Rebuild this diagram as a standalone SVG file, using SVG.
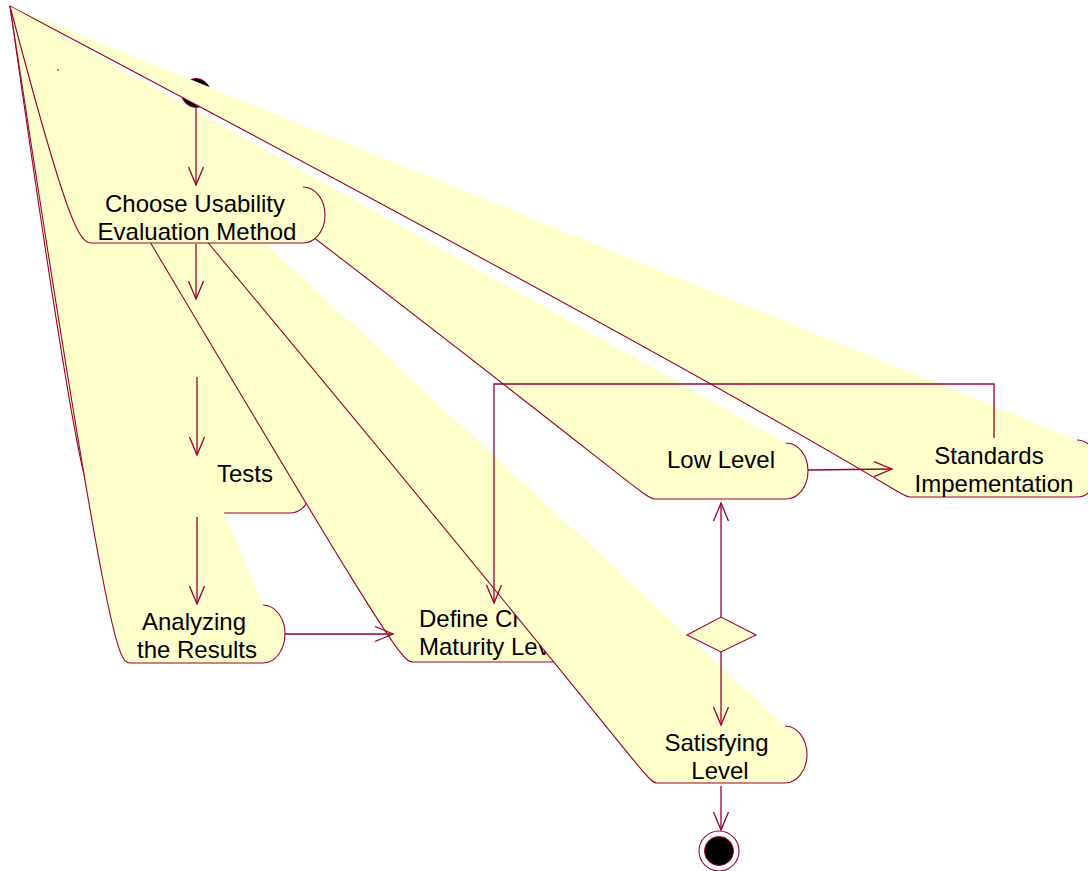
<svg xmlns="http://www.w3.org/2000/svg" width="1088" height="871" viewBox="0 0 1088 871">
  <style>
    .body { fill: #FFFFCC; stroke: none; }
    .edge { fill: none; stroke: #990033; stroke-width: 1.1; }
    .conn { fill: none; stroke: #990033; stroke-width: 1.3; }
    .lbl { font-family: "Liberation Sans", Arial, sans-serif; font-size: 24px; fill: #000000; }
    .mid { text-anchor: middle; }
  </style>
  <defs>
    <marker id="open" viewBox="-20 -10 22 20" refX="0" refY="0" markerWidth="22" markerHeight="20" markerUnits="userSpaceOnUse" orient="auto">
      <path d="M -18 -7.5 L 0 0 L -18 7.5" fill="none" stroke="#990033" stroke-width="1.3"/>
    </marker>
  </defs>
  <rect width="1088" height="871" fill="#FFFFFF"/>

  <!-- initial state -->
  <g id="start">
    <circle cx="196" cy="93" r="14.5" fill="#000000" stroke="#990033" stroke-width="1"/>
  </g>

  <!-- activity states: each outline starts from the shared corner point (10,6) -->
  <g id="standards">
    <path class="body" d="M10,6 C880,466 897.8,497 910,497 L1077,497 C1089.2,497 1099,484.2 1099,468.5 C1099,452.8 1089.2,440 1077,440 Z"/>
    <path class="edge" d="M10,6 C880,466 897.8,497 910,497 L1077,497 C1089.2,497 1099,484.2 1099,468.5 C1099,452.8 1089.2,440 1077,440"/>
    <text class="lbl mid" x="989" y="464">Standards</text>
    <text class="lbl mid" x="994" y="492">Impementation</text>
  </g>

  <g id="low-level">
    <path class="body" d="M10,6 C633,478 642.8,499 655,499 L786,499 C798.2,499 808,486.5 808,471 C808,455.5 798.2,443 786,443 Z"/>
    <path class="edge" d="M10,6 C633,478 642.8,499 655,499 L786,499 C798.2,499 808,486.5 808,471 C808,455.5 798.2,443 786,443"/>
    <text class="lbl mid" x="721" y="468">Low Level</text>
  </g>

  <g id="tests">
    <path class="body" d="M10,6 C80,500.5 89.8,513 102,513 L290,513 C302.2,513 312,500.5 312,485 C312,469.5 302.2,457 290,457 Z"/>
    <path class="edge" d="M10,6 C80,500.5 89.8,513 102,513 L290,513 C302.2,513 312,500.5 312,485 C312,469.5 302.2,457 290,457"/>
    <text class="lbl" x="217" y="482">Tests</text>
  </g>

  <g id="analyzing">
    <path class="body" d="M10,6 C108,650 117.8,663 130,663 L263,663 C275.2,663 285,650 285,634 C285,618 275.2,605 263,605 Z"/>
    <path class="edge" d="M10,6 C108,650 117.8,663 130,663 L263,663 C275.2,663 285,650 285,634 C285,618 275.2,605 263,605"/>
    <text class="lbl mid" x="194" y="630">Analyzing</text>
    <text class="lbl mid" x="197" y="658">the Results</text>
  </g>

  <g id="define">
    <path class="body" d="M10,6 C391,649 400.8,662 413,662 L578,662 C590.2,662 600,649 600,633 C600,617 590.2,604 578,604 Z"/>
    <path class="edge" d="M10,6 C391,649 400.8,662 413,662 L578,662 C590.2,662 600,649 600,633 C600,617 590.2,604 578,604"/>
    <text class="lbl" x="419" y="627">Define Cr</text>
    <text class="lbl" x="419" y="655">Maturity Lev</text>
  </g>

  <g id="satisfying">
    <path class="body" d="M10,6 C638,754 644.8,783 657,783 L785,783 C797.2,783 807,770.2 807,754.5 C807,738.8 797.2,726 785,726 Z"/>
    <path class="edge" d="M10,6 C638,754 644.8,783 657,783 L785,783 C797.2,783 807,770.2 807,754.5 C807,738.8 797.2,726 785,726"/>
    <text class="lbl mid" x="716.5" y="751">Satisfying</text>
    <text class="lbl mid" x="720" y="779">Level</text>
  </g>

  <g id="choose">
    <path class="body" d="M10,6 C69,230.5 79.8,243 92,243 L303,243 C315.2,243 325,230.5 325,215 C325,199.5 315.2,187 303,187 Z"/>
    <path class="edge" d="M10,6 C69,230.5 79.8,243 92,243 L303,243 C315.2,243 325,230.5 325,215 C325,199.5 315.2,187 303,187"/>
    <text class="lbl mid" x="195" y="212">Choose Usability</text>
    <text class="lbl mid" x="197" y="240">Evaluation Method</text>
  </g>

  <!-- stray point mark -->
  <rect x="57.5" y="69" width="1" height="2" fill="#990033"/>

  <!-- decision -->
  <g id="decision">
    <polygon points="687,635 721,617 756,635 721,652" fill="#FFFFCC" stroke="#990033" stroke-width="1.1"/>
  </g>

  <!-- final state -->
  <g id="end">
    <circle cx="719" cy="851" r="20" fill="#FFFFFF" stroke="#990033" stroke-width="1.1"/>
    <circle cx="719" cy="851" r="14.5" fill="#000000" stroke="#990033" stroke-width="1"/>
  </g>

  <!-- transitions -->
  <g id="connectors" class="conn">
    <path d="M196,108 L196,185" marker-end="url(#open)"/>
    <path d="M196,244 L196,299" marker-end="url(#open)"/>
    <path d="M197,377 L197,455" marker-end="url(#open)"/>
    <path d="M197,517 L197,604" marker-end="url(#open)"/>
    <path d="M285,634 L393,634" marker-end="url(#open)"/>
    <path d="M994,438 L994,384 L494,384 L494,603" marker-end="url(#open)"/>
    <path d="M721,617 L721,503" marker-end="url(#open)"/>
    <path d="M721,652 L721,725" marker-end="url(#open)"/>
    <path d="M808,470 L892,469" marker-end="url(#open)"/>
    <path d="M721,786 L721,830" marker-end="url(#open)"/>
  </g>
</svg>
